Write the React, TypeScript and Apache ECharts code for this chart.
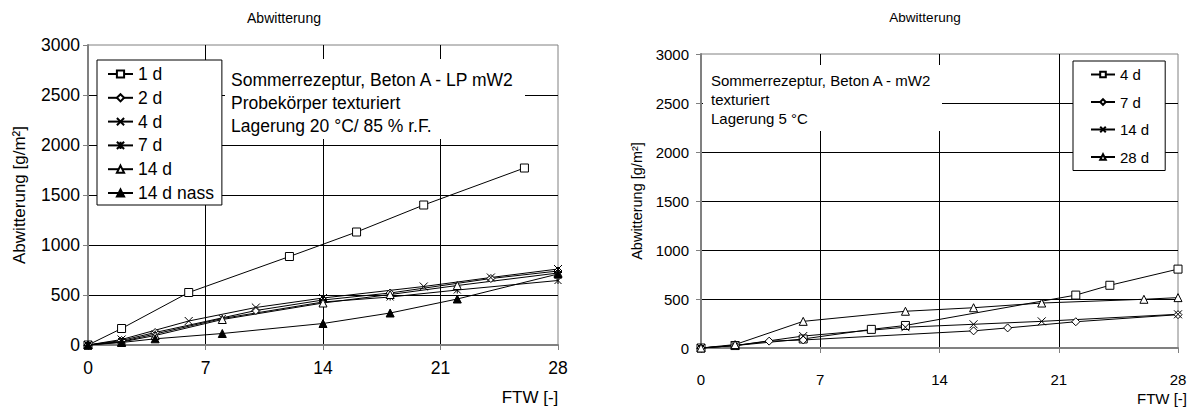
import React, { useEffect, useRef } from 'react';
import * as echarts from 'echarts';

const FONT = 'Arial, "Liberation Sans", sans-serif';

// ---------- Left chart data (Sommerrezeptur, Beton A - LP mW2) ----------
const leftNames = ['1 d', '2 d', '4 d', '7 d', '14 d', '14 d nass'];
const left1dX = [0, 2, 6, 12, 16, 20, 26];
const left1dY = [0, 165, 525, 885, 1130, 1400, 1770];
const left2dX = [0, 2, 4, 10, 14, 18, 24, 28];
const left2dY = [0, 45, 125, 345, 450, 520, 665, 740];
const left4dX = [0, 2, 6, 10, 14, 20, 24, 28];
const left4dY = [0, 55, 240, 375, 470, 585, 675, 760];
const left7dX = [0, 2, 4, 8, 14, 18, 22, 28];
const left7dY = [0, 35, 110, 265, 430, 480, 550, 645];
const left14dX = [0, 2, 4, 8, 14, 18, 22, 28];
const left14dY = [0, 30, 95, 255, 420, 505, 595, 720];
const left14dNassX = [0, 2, 4, 8, 14, 18, 22, 28];
const left14dNassY = [0, 25, 62, 115, 215, 320, 460, 710];
const leftText = ['Sommerrezeptur, Beton A - LP mW2', 'Probekörper texturiert', 'Lagerung 20 °C/ 85 % r.F.'];

// ---------- Right chart data (Sommerrezeptur, Beton A - mW2) ----------
const rightNames = ['4 d', '7 d', '14 d', '28 d'];
const right4dX = [0, 2, 6, 10, 12, 22, 24, 28];
const right4dY = [0, 25, 92, 190, 230, 540, 640, 805];
const right7dX = [0, 2, 4, 6, 16, 18, 22, 28];
const right7dY = [0, 25, 70, 82, 175, 205, 268, 340];
const right14dX = [0, 2, 6, 12, 16, 20, 28];
const right14dY = [0, 25, 122, 212, 242, 272, 344];
const right28dX = [0, 2, 6, 12, 16, 20, 26, 28];
const right28dY = [0, 35, 272, 375, 411, 459, 497, 514];
const rightText = ['Sommerrezeptur, Beton A - mW2', 'texturiert', 'Lagerung 5 °C'];

const xTickStep = 7;
const xMax = 28;
const yTickStep = 500;
const yMax = 3000;
const titleText = 'Abwitterung';
const yName = 'Abwitterung [g/m²]';
const xName = 'FTW [-]';

const SYM_X = 'path://M0,0L10,10M10,0L0,10';
const SYM_STAR = 'path://M0,0L10,10M10,0L0,10M5,0L5,10';

function zip(xs: number[], ys: number[]) {
  return xs.map((x, i) => [x, ys[i]]);
}

function mk(name: string, xs: number[], ys: number[], symbol: string, fill: string, size = 8) {
  return {
    type: 'line',
    name,
    data: zip(xs, ys),
    symbol,
    symbolSize: size,
    showSymbol: true,
    clip: false,
    lineStyle: { color: '#000', width: 1 },
    itemStyle: { color: fill, borderColor: '#000', borderWidth: 1 },
    emphasis: { disabled: true },
    color: '#000',
  };
}

function axes(fs: number, xMargin: number, yMargin: number, nameGap: number, nameFs: number) {
  return {
    xAxis: {
      type: 'value',
      min: 0,
      max: xMax,
      interval: xTickStep,
      axisLine: { show: true, onZero: false, lineStyle: { color: '#808080', width: 2 } },
      axisTick: { show: true, length: 5, lineStyle: { color: '#808080' } },
      axisLabel: { color: '#000', fontSize: fs, fontFamily: FONT, margin: xMargin, formatter: (v: number) => String(v) },
      splitLine: { show: true, showMinLine: false, showMaxLine: false, lineStyle: { color: '#000', width: 1 } },
    },
    yAxis: {
      type: 'value',
      min: 0,
      max: yMax,
      interval: yTickStep,
      name: yName,
      nameLocation: 'middle',
      nameGap,
      nameRotate: 90,
      nameTextStyle: { color: '#000', fontSize: nameFs, fontFamily: FONT },
      axisLine: { show: true, lineStyle: { color: '#808080', width: 2 } },
      axisTick: { show: true, length: 5, lineStyle: { color: '#808080' } },
      axisLabel: { color: '#000', fontSize: fs, fontFamily: FONT, margin: yMargin, formatter: (v: number) => String(v) },
      splitLine: { show: true, showMinLine: false, showMaxLine: false, lineStyle: { color: '#000', width: 1 } },
    },
  };
}

function textBox(rect: number[], lines: string[], tx: number, ty: number[], fs: number) {
  return {
    type: 'group',
    z: 10,
    children: [
      { type: 'rect', z: 10, shape: { x: rect[0], y: rect[1], width: rect[2], height: rect[3] }, style: { fill: '#fff' } },
      ...lines.map((t, i) => ({
        type: 'text',
        z: 11,
        x: tx,
        y: ty[i],
        style: { text: t, fill: '#000', fontSize: fs, fontFamily: FONT, align: 'left', verticalAlign: 'middle' },
      })),
    ],
  };
}

function label(text: string, x: number, y: number, fs: number) {
  return {
    type: 'text',
    z: 11,
    x,
    y,
    style: { text, fill: '#000', fontSize: fs, fontFamily: FONT, align: 'center', verticalAlign: 'middle' },
  };
}

const leftOption = {
  animation: false,
  backgroundColor: '#fff',
  grid: {
    left: 88, top: 45, width: 470, height: 300, show: true, borderColor: '#808080', borderWidth: 1,
    containLabel: false, outerBoundsMode: 'none',
  },
  ...axes(17.5, 14, 8, 60, 17),
  legend: {
    orient: 'vertical',
    left: 97,
    top: 60,
    data: leftNames,
    itemWidth: 25,
    itemHeight: 9,
    itemGap: 5.8,
    padding: [5, 8, 3, 10],
    borderColor: '#000',
    borderWidth: 1,
    backgroundColor: '#fff',
    selectedMode: false,
    textStyle: { color: '#000', fontSize: 17.5, fontFamily: FONT },
    z: 20,
  },
  graphic: [
    textBox([225, 59, 300, 80], leftText, 231, [80, 103, 126], 17.5),
    label(titleText, 284, 18, 14),
    label(xName, 530, 397, 17),
  ],
  series: [
    mk(leftNames[0], left1dX, left1dY, 'rect', '#fff'),
    mk(leftNames[1], left2dX, left2dY, 'diamond', '#fff'),
    mk(leftNames[2], left4dX, left4dY, SYM_X, '#fff'),
    mk(leftNames[3], left7dX, left7dY, SYM_STAR, '#fff', 7),
    mk(leftNames[4], left14dX, left14dY, 'triangle', '#fff'),
    mk(leftNames[5], left14dNassX, left14dNassY, 'triangle', '#000'),
  ],
};

const rightOption = {
  animation: false,
  backgroundColor: '#fff',
  grid: {
    left: 105, top: 54, width: 477, height: 294, show: true, borderColor: '#808080', borderWidth: 1,
    containLabel: false, outerBoundsMode: 'none',
  },
  ...axes(15, 24, 12, 54, 14.5),
  legend: {
    orient: 'vertical',
    left: 477,
    top: 61,
    data: rightNames,
    itemWidth: 24,
    itemHeight: 7,
    itemGap: 12.5,
    padding: [6, 16, 6, 17],
    borderColor: '#000',
    borderWidth: 1,
    backgroundColor: '#fff',
    selectedMode: false,
    textStyle: { color: '#000', fontSize: 15, fontFamily: FONT },
    z: 20,
  },
  graphic: [
    textBox([107, 65, 239, 66], rightText, 115, [80, 99, 118], 15),
    label(titleText, 329, 17, 13.5),
    label(xName, 566, 398, 15),
  ],
  series: [
    mk(rightNames[0], right4dX, right4dY, 'rect', '#fff'),
    mk(rightNames[1], right7dX, right7dY, 'diamond', '#fff'),
    mk(rightNames[2], right14dX, right14dY, SYM_X, '#fff'),
    mk(rightNames[3], right28dX, right28dY, 'triangle', '#fff'),
  ],
};

function Panel({ option, left }: { option: any; left: number }) {
  const ref = useRef<HTMLDivElement>(null);
  useEffect(() => {
    if (!ref.current) return;
    const chart = echarts.init(ref.current, null, { renderer: 'svg' });
    chart.setOption(option);
    return () => chart.dispose();
  }, [option]);
  return <div ref={ref} style={{ position: 'absolute', left, top: 0, width: 596, height: 414 }} />;
}

export default function App() {
  return (
    <div style={{ position: 'absolute', left: 0, top: 0, width: 1192, height: 414, background: '#fff' }}>
      <Panel option={leftOption} left={0} />
      <Panel option={rightOption} left={596} />
    </div>
  );
}
